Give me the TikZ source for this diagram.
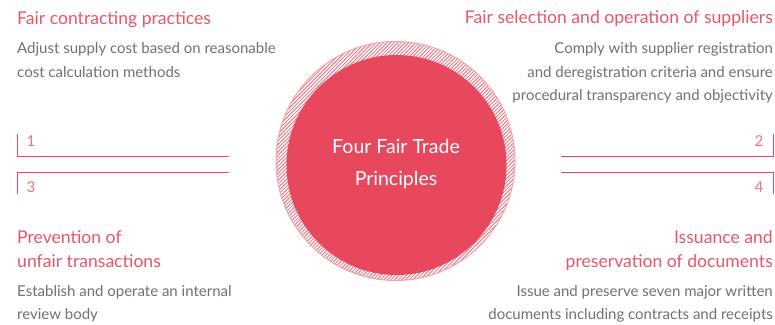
\documentclass[tikz,border=0pt]{standalone}
\usepackage{fontspec}
\setmainfont{Lato}
\definecolor{lgred}{HTML}{E8485E}
\definecolor{titlered}{HTML}{EA5469}
\definecolor{numred}{HTML}{F07083}
\definecolor{bodygray}{HTML}{707070}
\definecolor{ringpink}{HTML}{F2A3A6}
\tikzset{
  titletext/.style={inner sep=0pt, text=titlered, font=\fontsize{17.6}{20}\selectfont},
  bodytext/.style={inner sep=0pt, text=bodygray, font=\fontsize{15}{17}\selectfont},
  numtext/.style={inner sep=0pt, text=numred, font=\fontsize{15}{17}\selectfont},
  centertext/.style={inner sep=0pt, text=white, font=\fontsize{19.5}{22}\selectfont},
  bracketline/.style={draw=lgred, line width=1pt},
}
\begin{document}
\begin{tikzpicture}[x=1pt,y=-1pt]
\useasboundingbox (0,0) rectangle (775,324);
% ring with hatching
\begin{scope}
  \clip (395.5,161) circle (119.5);
  \foreach \i in {-260,-256.4,...,260}
    \draw[lgred!80, line width=0.8pt] (395.5+\i-130,161+130) -- (395.5+\i+130,161-130);
\end{scope}
\draw[ringpink, line width=1pt] (395.5,161) circle (119.5);
\fill[lgred] (396.5,165) circle (110);
\node[centertext, anchor=base] (c1) at (396,153) {Four Fair Trade};
\node[centertext, anchor=base] (c2) at (396,185) {Principles};
% brackets
\draw[bracketline] (17.5,134) -- (17.5,156) -- (229,156);
\draw[bracketline] (229,172) -- (17.5,172) -- (17.5,194);
\draw[bracketline] (773,134) -- (773,156) -- (561,156);
\draw[bracketline] (561,172) -- (773,172) -- (773,194);
\node[numtext, anchor=base] (n1) at (31,146.5) {1};
\node[numtext, anchor=base] (n3) at (31,192.5) {3};
\node[numtext, anchor=base] (n2) at (759,146.5) {2};
\node[numtext, anchor=base] (n4) at (759,192.5) {4};
% top left
\node[titletext, anchor=base west] (t1) at (17,24) {Fair contracting practices};
\node[bodytext, anchor=base west] (b1a) at (17,53) {Adjust supply cost based on reasonable};
\node[bodytext, anchor=base west] (b1b) at (17,77) {cost calculation methods};
% top right
\node[titletext, anchor=base east] (t2) at (773,23) {Fair selection and operation of suppliers};
\node[bodytext, anchor=base east] (b2a) at (773,53) {Comply with supplier registration};
\node[bodytext, anchor=base east] (b2b) at (773,77) {and deregistration criteria and ensure};
\node[bodytext, anchor=base east] (b2c) at (773,100) {procedural transparency and objectivity};
% bottom left
\node[titletext, anchor=base west] (t3a) at (17,243) {Prevention of};
\node[titletext, anchor=base west] (t3b) at (17,267) {unfair transactions};
\node[bodytext, anchor=base west] (b3a) at (17,296) {Establish and operate an internal};
\node[bodytext, anchor=base west] (b3b) at (17,319) {review body};
% bottom right
\node[titletext, anchor=base east] (t4a) at (773,243) {Issuance and};
\node[titletext, anchor=base east] (t4b) at (773,267) {preservation of documents};
\node[bodytext, anchor=base east] (b4a) at (773,296) {Issue and preserve seven major written};
\node[bodytext, anchor=base east] (b4b) at (773,319) {documents including contracts and receipts};
\end{tikzpicture}
\end{document}
